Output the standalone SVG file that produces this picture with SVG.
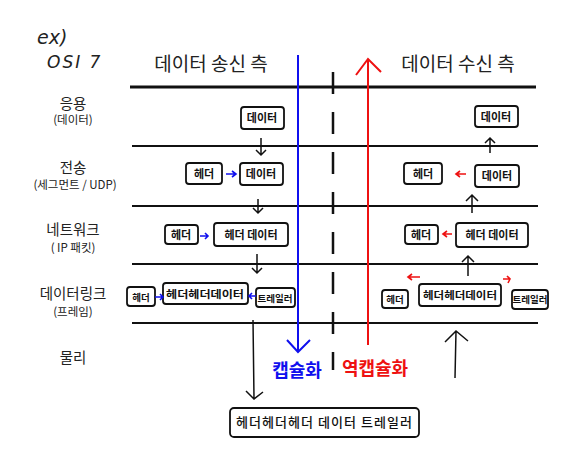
<svg xmlns="http://www.w3.org/2000/svg" width="579" height="463" viewBox="0 0 579 463">
<defs>
<style>
.t{font-family:"Noto Sans CJK KR","Noto Sans",sans-serif;fill:#222}
.title{font-size:19px}
.lay{font-size:14.5px;text-anchor:middle}
.sub{font-size:11.5px;text-anchor:middle}
.bx{fill:#fff;stroke:#111;stroke-width:1.8}
.bt{font-family:"Noto Sans CJK KR",sans-serif;font-size:11px;font-weight:700;text-anchor:middle;fill:#111}
.ln{stroke:#111;stroke-width:2;fill:none}
.thin{stroke:#111;stroke-width:1.5;fill:none}
.blue{stroke:#1010ee;stroke-width:1.6;fill:none}
.red{stroke:#ee1111;stroke-width:1.6;fill:none}
</style>
</defs>
<rect width="579" height="463" fill="#fff"/>

<g id="header">
<text class="t" x="37" y="44" style="font-size:19px;font-style:italic;font-family:'DejaVu Sans',sans-serif">ex)</text>
<text class="t" x="47" y="68" style="font-size:17px;font-style:italic;letter-spacing:2px;font-family:'DejaVu Sans',sans-serif">OSI 7</text>
<text class="t title" x="211" y="71" text-anchor="middle">데이터 송신 측</text>
<text class="t title" x="458" y="71" text-anchor="middle">데이터 수신 측</text>
</g>

<g id="layers">
<line x1="130" y1="87" x2="536" y2="87" stroke="#111" stroke-width="3"/>
<line class="ln" x1="132" y1="146" x2="538" y2="146"/>
<line class="ln" x1="132" y1="206" x2="538" y2="206"/>
<line class="ln" x1="132" y1="264" x2="538" y2="264"/>
<line class="ln" x1="132" y1="323" x2="538" y2="323"/>
<line x1="333" y1="72" x2="333" y2="370" stroke="#111" stroke-width="2.5" stroke-dasharray="22 18"/>
</g>

<g id="layer-labels">
<text class="t lay" x="73" y="109">응용</text>
<text class="t sub" x="73" y="124">(데이터)</text>
<text class="t lay" x="73" y="173">전송</text>
<text class="t sub" x="75" y="189">(세그먼트 / UDP)</text>
<text class="t lay" x="73" y="235">네트워크</text>
<text class="t sub" x="73" y="252">( IP 패킷)</text>
<text class="t lay" x="73" y="299">데이터링크</text>
<text class="t sub" x="73" y="316">(프레임)</text>
<text class="t lay" x="73" y="363">물리</text>
</g>

<g id="send-app"><rect class="bx" x="241" y="107" width="43" height="22" rx="3"/><text class="bt" x="262" y="122">데이터</text></g>
<g id="send-tr-hdr"><rect class="bx" x="186" y="163" width="36" height="21" rx="3"/><text class="bt" x="204" y="178">헤더</text></g>
<g id="send-tr-data"><rect class="bx" x="240" y="163" width="43" height="22" rx="3"/><text class="bt" x="261" y="178">데이터</text></g>
<g id="send-nw-hdr"><rect class="bx" x="165" y="225" width="33" height="19" rx="3"/><text class="bt" x="181" y="239">헤더</text></g>
<g id="send-nw-data"><rect class="bx" x="214" y="223" width="74" height="23" rx="3"/><text class="bt" x="251" y="239">헤더 데이터</text></g>
<g id="send-dl-hdr"><rect class="bx" x="127" y="287" width="28" height="19" rx="3"/><text class="bt" x="141" y="301" style="font-size:9.5px">헤더</text></g>
<g id="send-dl-data"><rect class="bx" x="163" y="283" width="85" height="21" rx="3"/><text class="bt" x="205" y="298" style="font-size:10.5px" textLength="78" lengthAdjust="spacingAndGlyphs">헤더헤더데이터</text></g>
<g id="send-dl-trl"><rect class="bx" x="256" y="288" width="39" height="19" rx="3"/><text class="bt" x="275" y="302" style="font-size:9.5px">트레일러</text></g>

<g id="recv-app"><rect class="bx" x="475" y="106" width="43" height="21" rx="3"/><text class="bt" x="496" y="121">데이터</text></g>
<g id="recv-tr-hdr"><rect class="bx" x="404" y="163" width="38" height="21" rx="3"/><text class="bt" x="423" y="178">헤더</text></g>
<g id="recv-tr-data"><rect class="bx" x="475" y="165" width="44" height="22" rx="3"/><text class="bt" x="497" y="180">데이터</text></g>
<g id="recv-nw-hdr"><rect class="bx" x="405" y="225" width="33" height="19" rx="3"/><text class="bt" x="421" y="239">헤더</text></g>
<g id="recv-nw-data"><rect class="bx" x="456" y="223" width="72" height="24" rx="3"/><text class="bt" x="492" y="239">헤더 데이터</text></g>
<g id="recv-dl-hdr"><rect class="bx" x="382" y="290" width="26" height="18" rx="3"/><text class="bt" x="395" y="303" style="font-size:9.5px">헤더</text></g>
<g id="recv-dl-data"><rect class="bx" x="419" y="284" width="82" height="22" rx="3"/><text class="bt" x="460" y="299" style="font-size:10.5px" textLength="74" lengthAdjust="spacingAndGlyphs">헤더헤더데이터</text></g>
<g id="recv-dl-trl"><rect class="bx" x="512" y="290" width="36" height="19" rx="3"/><text class="bt" x="530" y="303" style="font-size:9.5px">트레일러</text></g>

<g id="bottom-frame"><rect class="bx" x="230" y="408" width="189" height="29" rx="4"/><text class="bt" x="324" y="427" style="font-size:13px;font-weight:500" textLength="176">헤더헤더헤더 데이터 트레일러</text></g>

<g id="labels">
<text x="297" y="377" text-anchor="middle" style="font-family:'Noto Sans CJK KR',sans-serif;font-size:18px;font-weight:700;fill:#1010ee">캡슐화</text>
<text x="375" y="375" text-anchor="middle" style="font-family:'Noto Sans CJK KR',sans-serif;font-size:18px;font-weight:700;fill:#ee1111">역캡슐화</text>
</g>

<g id="connectors">
<path d="M298 55 V352 M287 340 L298 352 L310 340" stroke="#1010ee" stroke-width="2" fill="none"/>
<path d="M368 345 V59 M356 75 L368 59 L381 72" stroke="#ee1111" stroke-width="2" fill="none"/>
<path class="thin" d="M261 138 V155 M256 150 L261 155 L266 150"/>
<path class="thin" d="M258 199 V213 M253 208 L258 213 L263 208"/>
<path class="thin" d="M257 254 V273 M252 268 L257 273 L262 268"/>
<path class="thin" d="M253 320 L254 399 M246 391 L254 399 L263 392"/>
<path class="blue" d="M226 174 H236 M232 171 L236 174 L232 177"/>
<path class="blue" d="M200 236 H208 M205 233 L208 236 L205 239"/>
<path class="blue" d="M155 297 H163 M160 294 L163 297 L160 300"/>
<path class="blue" d="M256 296 H249 M252 293 L249 296 L252 299"/>
<path class="thin" d="M490 153 V138 M485 143 L490 138 L495 143"/>
<path class="thin" d="M472 213 V195 M466 201 L472 195 L478 201"/>
<path class="thin" d="M468 276 V256 M462 262 L468 256 L474 262"/>
<path class="thin" d="M455 378 L456 331 M445 342 L456 331 L468 341"/>
<path class="red" d="M466 174 H456 M460 171 L456 174 L460 177"/>
<path class="red" d="M452 234 H443 M447 231 L443 234 L447 237"/>
<path class="red" d="M420 277 H408 M412 274 L408 277 L412 280"/>
<path class="red" d="M503 279 H510 M507 276 L510 279 L508 283"/>
</g>
</svg>
